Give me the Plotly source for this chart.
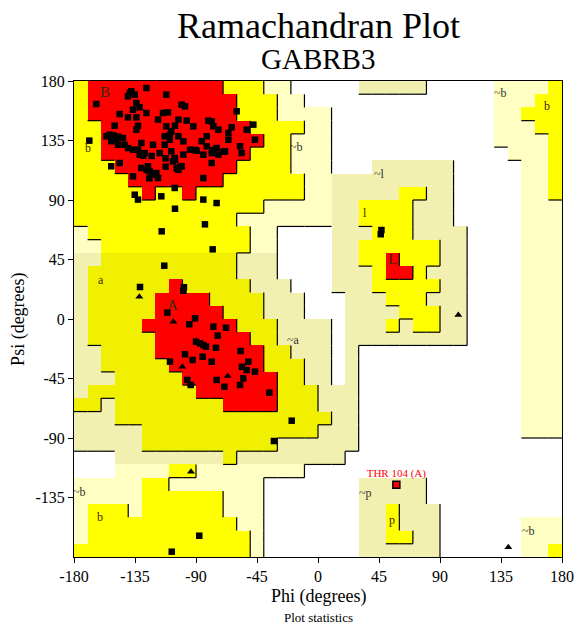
import plotly.graph_objects as go

# ---------------- region map (10-degree cells) ----------------
# rows: psi bands from 170..180 (top) down to -180..-170 (bottom)
# columns: phi bands from -180..-170 (left) to 170..180 (right)
# '.' disallowed, 'P' generous (~b), 'G' generous (~a ~l ~p),
# 'Y' allowed (b l p), 'A' allowed (a), 'R' core
region_rows = [
    "YRRRRR" "RRRRRY" "YYPP.." "...GGG" "GG...." ".PPPPY",
    "YRRRRR" "RRRRRR" "YYYPP." "......" "......" ".PPPYY",
    "YRRRRR" "RRRRRR" "YYYPPP" "P....." "......" ".PPYYY",
    "YYRRRR" "RRRRRR" "RYYYYP" "P....." "......" ".PPPYY",
    "YYRRRR" "RRRRRR" "RRYYPP" "P....." "......" ".PPPPY",
    "YYRRRR" "RRRRRR" "RYYYPP" "P....." "......" "..PPPY",
    "YYYRRR" "RRRRRR" "YYYYPP" "P...GG" "GGGG.." "...PPY",
    "YYYYRR" "RRRRRY" "YYYYYP" "PGGGGG" "GGGG.." "...PPY",
    "YYYYYR" "YYRYYY" "YYYYYP" "PGGGGG" "YYGG.." "...PPY",
    "YYYYYY" "YYYYYY" "YYPPPP" "PGGYYY" "YGGG.." "...PPP",
    "YYYYYY" "YYYYYY" "PPPPPP" "PGGYYY" "YGGG.." "...PPP",
    "PYYYYY" "YYYYYY" "YPP..." ".GGGYY" "YGGGG." "...PPP",
    "PPYYYY" "YYYYYY" "YPP..." ".GGYYY" "YYYGG." "...PPP",
    "GGAAAA" "AAAAAA" "GGG..." ".GGYYR" "YYYGG." "...PPP",
    "GAAAAA" "AAAAAA" "GGG..." ".GGGYR" "RYGGG." "...PPP",
    "GAAAAA" "ARAAAA" "AGGG.." ".GGGYY" "YYYGG." "...PPP",
    "GAAAAA" "RRRRAA" "AAGGG." "..GGGY" "YYGGG." "...PPP",
    "GAAAAA" "RRRRRA" "AAGGG." "..GGGG" "YYYGG." "...PPP",
    "GAAAAR" "RRRRRR" "AAAGGG" "G.GGGY" "GYYGG." "...PPP",
    "GAAAAA" "RRRRRR" "RAAGGG" "G.GGGG" "GGGGG." "...PPP",
    "GGAAAA" "RRRRRR" "RRAAGG" "G.G..." "......" "...PPP",
    "GGAAAA" "ARRRRR" "RRAAAG" "G.G..." "......" "...PPP",
    "GGGAAA" "AARRRR" "RRRAAG" "G.G..." "......" "...PPP",
    "GAAAAA" "AAARRR" "RRRAAA" "GGG..." "......" "...PPP",
    "AAGAAA" "AAAAAR" "RRRAAA" "GGG..." "......" "...PPP",
    "GGGAAA" "AAAAAA" "AAAAAA" "AGG..." "......" "...PPP",
    "GGGGGA" "AAAAAA" "AAAAAA" "GGG..." "......" "...PPP",
    "GGGGGA" "AAAAAA" "AAAGGG" "GGG..." "......" "......",
    "...GGG" "GGGGGA" "GGGGGG" "GG...." "......" "......",
    "...PPP" "PYYPPP" "PPPPP." "......" "......" "......",
    "PPPPPY" "YPPPPP" "PP...." "...GGG" "GG...." "......",
    "PPPPPY" "YYYYYP" "PP...." "...GGG" "GG...." "......",
    "PYYYPY" "YYYYYP" "PP...." "...GGY" "GGG..." "......",
    "PYYYYY" "YYYYYY" "PP...." "...GGY" "GGG..." "...PPP",
    "PYYYYY" "YYYYYY" "YP...." "...GGY" "YGG..." "...PPP",
    "YYYYYY" "YYYYYY" "YP...." "...GGG" "GGG..." "...PPY",
]

region_codes = {".": 0, "P": 1, "G": 2, "Y": 3, "A": 4, "R": 5}
region_level = {".": 0, "P": 1, "G": 1, "Y": 2, "A": 2, "R": 3}
region_colors = ["#FFFFFF", "#FFFFC4", "#F2F0B0", "#FFFF00", "#F0F000", "#FF0000"]

phi_centers = [-175 + 10 * i for i in range(36)]
psi_centers_top = [175 - 10 * j for j in range(36)]

# ---------------- residues ----------------
res_phi = [
    -137.7, -126.6, -111.9, -140.2, -135.2, -138.9, -163.5, -134.0, -131.6, -136.5,
    -146.3, -140.2, -134.0, -126.6, -118.0, -114.3, -110.7, -150.0, -156.1, -153.7,
    -152.5, -148.8, -147.5, -143.9, -142.6, -140.2, -136.5, -132.8, -131.6, -130.3,
    -127.9, -121.7, -116.8, -113.1, -113.1, -111.9, -108.2, -109.4, -108.2, -107.0,
    -105.7, -132.8, -134.0, -152.5, -146.3, -136.5, -130.3, -125.4, -124.2, -121.7,
    -119.3, -118.0, -105.7, -135.2, -132.8, -115.6, -100.6, -98.1, -103.0, -96.9,
    -92.0, -80.9, -78.4, -77.2, -73.5, -66.1, -63.7, -60.0, -52.6, -47.7,
    -46.5, -103.0, -99.3, -94.4, -89.5, -85.8, -82.1, -82.1, -84.6, -78.4,
    -74.8, -73.5, -68.6, -66.1, -57.5, -56.3, -99.3, -105.5, -100.6, -103.0,
    -78.4, -84.6, -84.6, -74.8, -105.5, -83.4, -115.3, -77.7, -113.4, -131.3,
    -98.9, -99.3, -168.7, -151.0, -147.3, -105.5, -109.2, -90.7, -77.2, -69.8,
    -128.9, -122.7, -112.4, -126.4, -112.4, -104.3, -101.8, -124.4,
    -111.1, -94.9, -90.7, -77.2, -67.9, -74.0, -90.0, -87.1, -84.6, -82.6,
    -75.3, -98.1, -92.5, -85.1, -78.4, -109.2, -57.1, -51.4, -56.1, -52.6,
    -46.5, -74.8, -69.1, -55.1, -57.5, -96.4, -93.9, -35.9,
    -19.4, -32.5, -87.6, -107.9, 46.8, 46.3,
]
res_psi = [
    172.2, 174.7, 169.7, 168.4, 169.7, 170.9, 162.6, 163.4, 160.1, 158.3,
    155.0, 152.5, 152.5, 155.8, 150.8, 155.8, 156.3, 146.2, 138.2, 139.4,
    134.4, 135.6, 131.8, 136.9, 131.8, 129.3, 128.1, 128.1, 124.3, 133.1,
    125.5, 131.8, 125.5, 138.2, 131.8, 145.7, 141.9, 135.6, 126.8, 119.2,
    121.8, 146.2, 143.2, 115.5, 118.0, 107.9, 114.2, 115.5, 111.7, 109.2,
    110.4, 106.6, 99.1, 94.0, 90.3, 92.8, 162.1, 160.8, 150.8, 150.0,
    145.7, 150.0, 149.5, 145.7, 143.2, 140.7, 145.0, 157.1, 143.2, 147.0,
    135.6, 138.2, 134.4, 128.1, 127.3, 134.4, 138.2, 130.6, 124.3, 125.5,
    129.3, 124.3, 126.8, 135.6, 130.6, 125.5, 124.3, 120.5, 115.5, 112.9,
    118.0, 106.6, 90.3, 87.7, 83.4, 71.6, 66.3, 52.7, 40.3, 24.2,
    24.0, 21.4, 134.9, 138.9, 137.9, 146.2, 139.2, 127.8, 127.8, 126.6,
    123.5, 123.3, 121.5, 112.7, 115.2, 114.0, 115.2, 106.4,
    4.8, -4.0, 0.5, -5.8, -6.6, -12.6, -17.1, -18.4, -19.7, -20.9,
    -21.7, -26.7, -31.0, -28.5, -32.3, -32.3, -24.2, -32.3, -36.1, -38.6,
    -39.8, -46.1, -51.2, -44.9, -49.9, -46.1, -49.9, -55.7,
    -76.9, -92.3, -163.9, -176.0, 67.3, 64.1,
]
gly_phi = [-131.8, -106.7, -100.1, -66.6, -93.7, 103.5, 140.4]
gly_psi = [16.9, -2.0, -36.1, -43.1, -115.5, 3.0, -172.7]
outlier_phi = [57.8]
outlier_psi = [-125.3]
outlier_names = ["THR 104 (A)"]

region_labels = ["B", "b", "A", "a", "~a", "~b", "~b", "b", "L", "l", "~l",
                 "~b", "b", "~p", "p", "~b"]
label_phi = [-157.1, -169.7, -107.7, -160.0, -18.2, -16.2, -175.6, -160.8,
             55.1, 34.7, 45.2, 134.3, 169.2, 34.7, 54.4, 155.1]
label_psi = [171.7, 129.3, 10.6, 29.5, -15.9, 129.9, -130.6, -150.0,
             45.1, 79.9, 109.7, 170.7, 161.1, -131.3, -152.0, -160.1]

ticks = [-180, -135, -90, -45, 0, 45, 90, 135, 180]
yticks = [-135, -90, -45, 0, 45, 90, 135, 180]

FONT = "Liberation Serif, Times New Roman, serif"

# ---------------- build figure ----------------
z = [[region_codes[ch] for ch in row] for row in reversed(region_rows)]
psi_centers = list(reversed(psi_centers_top))
n = len(region_colors)
colorscale = []
for k, col in enumerate(region_colors):
    colorscale.append([k / n, col])
    colorscale.append([(k + 1) / n, col])

fig = go.Figure()
fig.add_trace(go.Heatmap(z=z, x=phi_centers, y=psi_centers, zmin=-0.5, zmax=n - 0.5,
                         colorscale=colorscale, showscale=False, hoverinfo="skip"))

# shadow lines on right/bottom edges of higher-level cells
lx, ly = [], []
for r, row in enumerate(region_rows):
    top = psi_centers_top[r] + 5
    bot = psi_centers_top[r] - 5
    for c, ch in enumerate(row):
        left = phi_centers[c] - 5
        right = phi_centers[c] + 5
        lev = region_level[ch]
        if c < 35 and lev > region_level[row[c + 1]]:
            lx += [right, right, None]
            ly += [top, bot, None]
        if r < 35 and lev > region_level[region_rows[r + 1][c]]:
            lx += [left, right, None]
            ly += [bot, bot, None]
fig.add_trace(go.Scatter(x=lx, y=ly, mode="lines", line=dict(color="black", width=1.2),
                         hoverinfo="skip", showlegend=False))

fig.add_trace(go.Scatter(x=res_phi, y=res_psi, mode="markers",
                         marker=dict(symbol="square", size=6.5, color="black"),
                         showlegend=False))
fig.add_trace(go.Scatter(x=gly_phi, y=gly_psi, mode="markers",
                         marker=dict(symbol="triangle-up", size=7, color="black"),
                         showlegend=False))
fig.add_trace(go.Scatter(x=outlier_phi, y=outlier_psi, mode="markers+text",
                         marker=dict(symbol="square", size=7, color="red",
                                     line=dict(color="black", width=1.5)),
                         text=outlier_names, textposition="top center",
                         textfont=dict(family=FONT, size=11, color="red"),
                         showlegend=False))

for t, px, py in zip(region_labels, label_phi, label_psi):
    big = t in ("B", "A", "L")
    fig.add_annotation(x=px, y=py, xref="x", yref="y", text=t, showarrow=False,
                       font=dict(family=FONT, size=15 if big else 12,
                                 color="#3a2a00" if not t.startswith("~") else "#333333"))

fig.add_annotation(x=0.5, y=1.115, xref="paper", yref="paper", text="Ramachandran Plot",
                   showarrow=False, font=dict(family=FONT, size=36, color="black"),
                   yanchor="middle")
fig.add_annotation(x=0.5, y=1.046, xref="paper", yref="paper", text="GABRB3",
                   showarrow=False, font=dict(family=FONT, size=29, color="black"),
                   yanchor="middle")
fig.add_annotation(x=0.5, y=-0.084, xref="paper", yref="paper", text="Phi (degrees)",
                   showarrow=False, font=dict(family=FONT, size=18, color="black"),
                   yanchor="middle")
fig.add_annotation(x=0.5, y=-0.128, xref="paper", yref="paper", text="Plot statistics",
                   showarrow=False, font=dict(family=FONT, size=13, color="black"),
                   yanchor="middle")
fig.add_annotation(x=-0.115, y=0.5, xref="paper", yref="paper", text="Psi (degrees)",
                   showarrow=False, textangle=-90,
                   font=dict(family=FONT, size=18, color="black"),
                   xanchor="center", yanchor="middle")

axis_common = dict(showgrid=False, zeroline=True, zerolinecolor="black", zerolinewidth=1,
                   showline=True, mirror=True, linecolor="black", linewidth=1,
                   ticks="outside", ticklen=5, tickcolor="black", automargin=False,
                   tickfont=dict(family=FONT, size=16, color="black"))
fig.update_xaxes(range=[-180, 180], tickvals=ticks, ticktext=[str(v) for v in ticks],
                 **axis_common)
fig.update_yaxes(range=[-180, 180], tickvals=yticks, ticktext=[str(v) for v in yticks],
                 **axis_common)
fig.update_layout(width=577, height=628, margin=dict(l=74, r=15, t=81, b=71),
                  plot_bgcolor="white", paper_bgcolor="white", showlegend=False)

fig.write_html("out.html")
